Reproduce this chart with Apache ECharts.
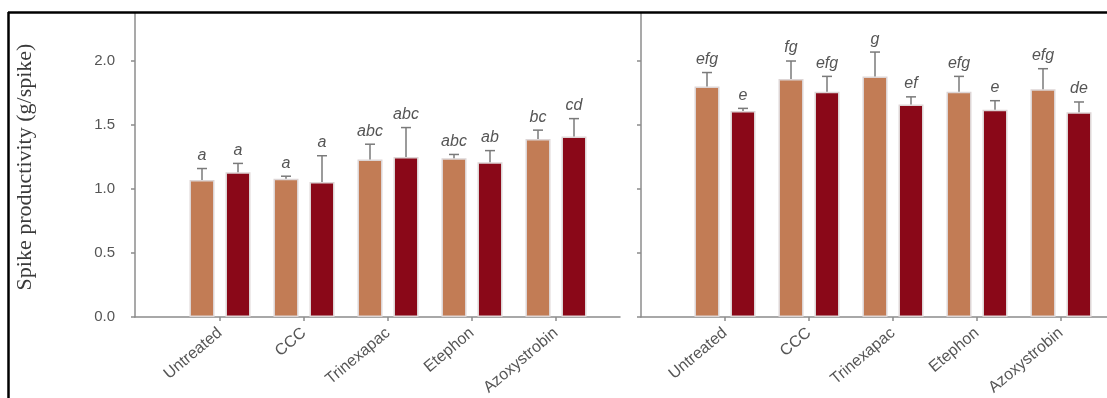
<!DOCTYPE html>
<html>
<head>
<meta charset="utf-8">
<script src="https://cdn.jsdelivr.net/npm/echarts@6/dist/echarts.min.js"></script>
<style>html,body{margin:0;padding:0;background:#fff;}#c{width:1107px;height:398px;}</style>
</head>
<body>
<div id="c"></div>
<script>
// ---- data ----
var categories = ['Untreated', 'CCC', 'Trinexapac', 'Etephon', 'Azoxystrobin'];
var yTicks = [0.0, 0.5, 1.0, 1.5, 2.0];

// left panel
var leftOrange = [1.07, 1.08, 1.23, 1.24, 1.39];
var leftOrangeUpper = [1.16, 1.10, 1.35, 1.27, 1.46];
var leftOrangeLetters = ['a', 'a', 'abc', 'abc', 'bc'];
var leftRed = [1.13, 1.055, 1.25, 1.21, 1.41];
var leftRedUpper = [1.20, 1.26, 1.48, 1.30, 1.55];
var leftRedLetters = ['a', 'a', 'abc', 'ab', 'cd'];

// right panel
var rightOrange = [1.80, 1.86, 1.88, 1.76, 1.78];
var rightOrangeUpper = [1.91, 2.00, 2.07, 1.88, 1.94];
var rightOrangeLetters = ['efg', 'fg', 'g', 'efg', 'efg'];
var rightRed = [1.61, 1.76, 1.66, 1.62, 1.60];
var rightRedUpper = [1.63, 1.88, 1.72, 1.69, 1.68];
var rightRedLetters = ['e', 'efg', 'ef', 'e', 'de'];

var yLabel = 'Spike productivity (g/spike)';
var yMax = 2.383; // visible top of the (cropped) axis

// ---- styles ----
var ORANGE = '#c27c55';
var RED = '#8a0818';
var AXIS = '#8c8c8c';
var TXT = '#555555';
var BAR_W = 25, BAR_GAP = 11;
var OFFSET = (BAR_W + BAR_GAP) / 2;

var chart = echarts.init(document.getElementById('c'), null, {renderer: 'canvas'});

var TOP = 12, H = 305;

var grids = [
  {left: 135, top: TOP, width: 485, height: H},
  {left: 178, top: TOP, width: 420, height: H},
  {left: 641, top: TOP, width: 470, height: H},
  {left: 683, top: TOP, width: 420, height: H}
];

function frameX(gi) {
  return {type: 'value', gridIndex: gi, min: 0, max: 1,
    axisLine: {show: true, lineStyle: {color: AXIS, width: 1.5}},
    axisTick: {show: false}, axisLabel: {show: false}, splitLine: {show: false}};
}
function catX(gi) {
  return {type: 'category', gridIndex: gi, data: categories,
    axisLine: {show: false},
    axisTick: {show: true, alignWithLabel: true, length: 4, lineStyle: {color: AXIS, width: 1.5}},
    axisLabel: {rotate: 40, color: TXT, fontFamily: 'Liberation Sans, Arial, sans-serif', fontSize: 16, margin: 14},
    splitLine: {show: false}};
}
function valY(gi, showAxis, showLabels) {
  return {type: 'value', gridIndex: gi, min: 0, max: yMax, interval: 0.5,
    show: showAxis,
    axisLine: {show: true, lineStyle: {color: AXIS, width: 1.5}},
    axisTick: {show: true, length: 4, inside: false, customValues: yTicks, lineStyle: {color: AXIS, width: 1.5}},
    axisLabel: {show: showLabels, customValues: yTicks, color: TXT, fontFamily: 'Liberation Sans, Arial, sans-serif', fontSize: 15, margin: 20,
      formatter: function (v) { return v.toFixed(1); }},
    splitLine: {show: false}};
}

function barSeries(gi, data, color) {
  return {type: 'bar', xAxisIndex: gi, yAxisIndex: gi, data: data,
    barWidth: BAR_W, barGap: (BAR_GAP / BAR_W * 100) + '%',
    itemStyle: {color: color, borderColor: '#ddd5d5', borderWidth: 1.5},
    silent: true, animation: false};
}

function errSeries(gi, means, uppers, letters, sign) {
  var d = means.map(function (m, i) { return [i, m, uppers[i]]; });
  return {type: 'custom', xAxisIndex: gi, yAxisIndex: gi, data: d, z: 5, animation: false, silent: true,
    renderItem: function (params, api) {
      var i = api.value(0);
      var p0 = api.coord([i, api.value(1)]);
      var p1 = api.coord([i, api.value(2)]);
      var x = p0[0] + sign * OFFSET;
      return {type: 'group', children: [
        {type: 'line', shape: {x1: x, y1: p0[1], x2: x, y2: p1[1]}, style: {stroke: '#7a7a7a', lineWidth: 1.5}},
        {type: 'line', shape: {x1: x - 5, y1: p1[1], x2: x + 5, y2: p1[1]}, style: {stroke: '#7a7a7a', lineWidth: 1.5}},
        {type: 'text', x: x, y: p1[1] - 5, style: {text: letters[params.dataIndex], fill: '#555',
          font: 'italic 16px "Liberation Sans", Arial, sans-serif', textAlign: 'center', textVerticalAlign: 'bottom'}}
      ]};
    }};
}

var option = {
  animation: false,
  backgroundColor: '#fff',
  grid: grids,
  xAxis: [frameX(0), catX(1), frameX(2), catX(3)],
  yAxis: [valY(0, true, true), valY(1, false, false), valY(2, true, false), valY(3, false, false)],
  series: [
    barSeries(1, leftOrange, ORANGE), barSeries(1, leftRed, RED),
    errSeries(1, leftOrange, leftOrangeUpper, leftOrangeLetters, -1),
    errSeries(1, leftRed, leftRedUpper, leftRedLetters, 1),
    barSeries(3, rightOrange, ORANGE), barSeries(3, rightRed, RED),
    errSeries(3, rightOrange, rightOrangeUpper, rightOrangeLetters, -1),
    errSeries(3, rightRed, rightRedUpper, rightRedLetters, 1)
  ],
  graphic: [
    {type: 'rect', z: 100, shape: {x: 0, y: 0, width: 1107, height: 12}, style: {fill: '#fff'}},
    {type: 'rect', z: 100, shape: {x: 0, y: 0, width: 8, height: 398}, style: {fill: '#fff'}},
    {type: 'line', z: 101, shape: {x1: 8, y1: 12.5, x2: 1107, y2: 12.5}, style: {stroke: '#000', lineWidth: 2.5}},
    {type: 'line', z: 101, shape: {x1: 8.5, y1: 12, x2: 8.5, y2: 398}, style: {stroke: '#000', lineWidth: 2.5}},
    {type: 'text', z: 50, x: 25, y: 167, rotation: Math.PI / 2,
      style: {text: yLabel, fill: '#3a3a3a', font: '22px "Liberation Serif", "DejaVu Serif", serif',
        textAlign: 'center', textVerticalAlign: 'middle'}}
  ]
};
chart.setOption(option);
</script>
</body>
</html>
